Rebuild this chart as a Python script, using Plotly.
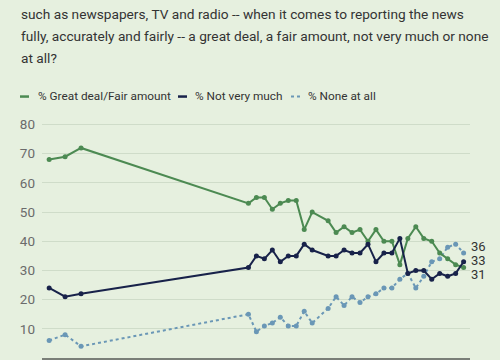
import plotly.graph_objects as go

years = [1972, 1974, 1976, 1997, 1998, 1999, 2000, 2001, 2002, 2003, 2004, 2005,
         2007, 2008, 2009, 2010, 2011, 2012, 2013, 2014, 2015, 2016, 2017, 2018,
         2019, 2020, 2021, 2022, 2023, 2024]
great_fair = [68, 69, 72, 53, 55, 55, 51, 53, 54, 54, 44, 50, 47, 43, 45, 43, 44, 40,
              44, 40, 40, 32, 41, 45, 41, 40, 36, 34, 32, 31]
not_very_much = [24, 21, 22, 31, 35, 34, 37, 33, 35, 35, 39, 37, 35, 35, 37, 36, 36, 39,
                 33, 36, 36, 41, 29, 30, 30, 27, 29, 28, 29, 33]
none_at_all = [6, 8, 4, 15, 9, 11, 12, 14, 11, 11, 16, 12, 17, 21, 18, 21, 19, 21,
               22, 24, 24, 27, 29, 24, 28, 33, 34, 38, 39, 36]
series_names = ["% Great deal/Fair amount", "% Not very much", "% None at all"]
y_ticks = [0, 10, 20, 30, 40, 50, 60, 70, 80]
title_lines = [
    "such as newspapers, TV and radio -- when it comes to reporting the news",
    "fully, accurately and fairly -- a great deal, a fair amount, not very much or none",
    "at all?",
]

GREEN = "#4c8a52"
NAVY = "#18224a"
BLUE = "#6a97b6"
BG = "#e6f0df"
FONT = "Roboto"

fig = go.Figure()
fig.add_trace(go.Scatter(x=years, y=none_at_all, mode="lines+markers", name=series_names[2],
                         line=dict(color=BLUE, width=2, dash="dot"),
                         marker=dict(size=5, color=BLUE)))
fig.add_trace(go.Scatter(x=years, y=great_fair, mode="lines+markers", name=series_names[0],
                         line=dict(color=GREEN, width=2),
                         marker=dict(size=5, color=GREEN)))
fig.add_trace(go.Scatter(x=years, y=not_very_much, mode="lines+markers", name=series_names[1],
                         line=dict(color=NAVY, width=2),
                         marker=dict(size=5, color=NAVY)))

L, R = 42, 470
B, T = 358.5, 109.5
W = R - L
H = B - T


def px(x):
    return (x - L) / W


def py(y):
    return (B - y) / H


annotations = []
for i, line in enumerate(title_lines):
    annotations.append(dict(xref="paper", yref="paper", x=px(19), y=py(13 + 22.3 * i),
                            xanchor="left", yanchor="middle", showarrow=False,
                            text=line, font=dict(family=FONT, size=13.7, color="#333333")))

legend_items = [(20, 37, GREEN, "solid", 2.5), (178, 194, NAVY, "solid", 2.5), (291, 307, BLUE, "dot", 2)]
shapes = []
for (lx, tx, col, dash, w), name in zip(legend_items, series_names):
    shapes.append(dict(type="line", xref="paper", yref="paper", x0=px(lx), x1=px(lx + 9),
                       y0=py(96), y1=py(96), line=dict(color=col, width=w, dash=dash)))
    annotations.append(dict(xref="paper", yref="paper", x=px(tx - 1), y=py(95),
                            xanchor="left", yanchor="middle", showarrow=False,
                            text=name, font=dict(family=FONT, size=11.8, color="#333333")))

# right-end labels
label_pos = [(none_at_all[-1], 246.5), (not_very_much[-1], 260.5), (great_fair[-1], 274.5)]
for v, ypix in label_pos:
    annotations.append(dict(xref="paper", yref="paper", x=px(469), y=py(ypix),
                            xanchor="left", yanchor="middle", showarrow=False,
                            text=str(v), font=dict(family=FONT, size=13, color="#333333")))

fig.update_layout(
    width=500, height=360,
    margin=dict(l=L, r=500 - R, t=T, b=360 - B),
    paper_bgcolor=BG, plot_bgcolor=BG,
    showlegend=False,
    font=dict(family=FONT),
    annotations=annotations,
    shapes=shapes,
    xaxis=dict(range=[1971.1, 2024.8], showgrid=False, zeroline=False,
               showticklabels=False, ticks="", showline=True,
               linecolor="#7a7f78", linewidth=1.5, fixedrange=True),
    yaxis=dict(range=[0, 85], tickvals=y_ticks, showgrid=True, gridcolor="#cfdcc9",
               gridwidth=1, zeroline=False, ticks="", showline=False,
               tickfont=dict(family=FONT, size=13.5, color="#6b6b6b"),
               ticklabelstandoff=6, fixedrange=True),
)

fig.write_html("out.html", config={"displayModeBar": False},
               post_script="document.body.style.margin='0';document.body.style.background='" + BG + "';")
